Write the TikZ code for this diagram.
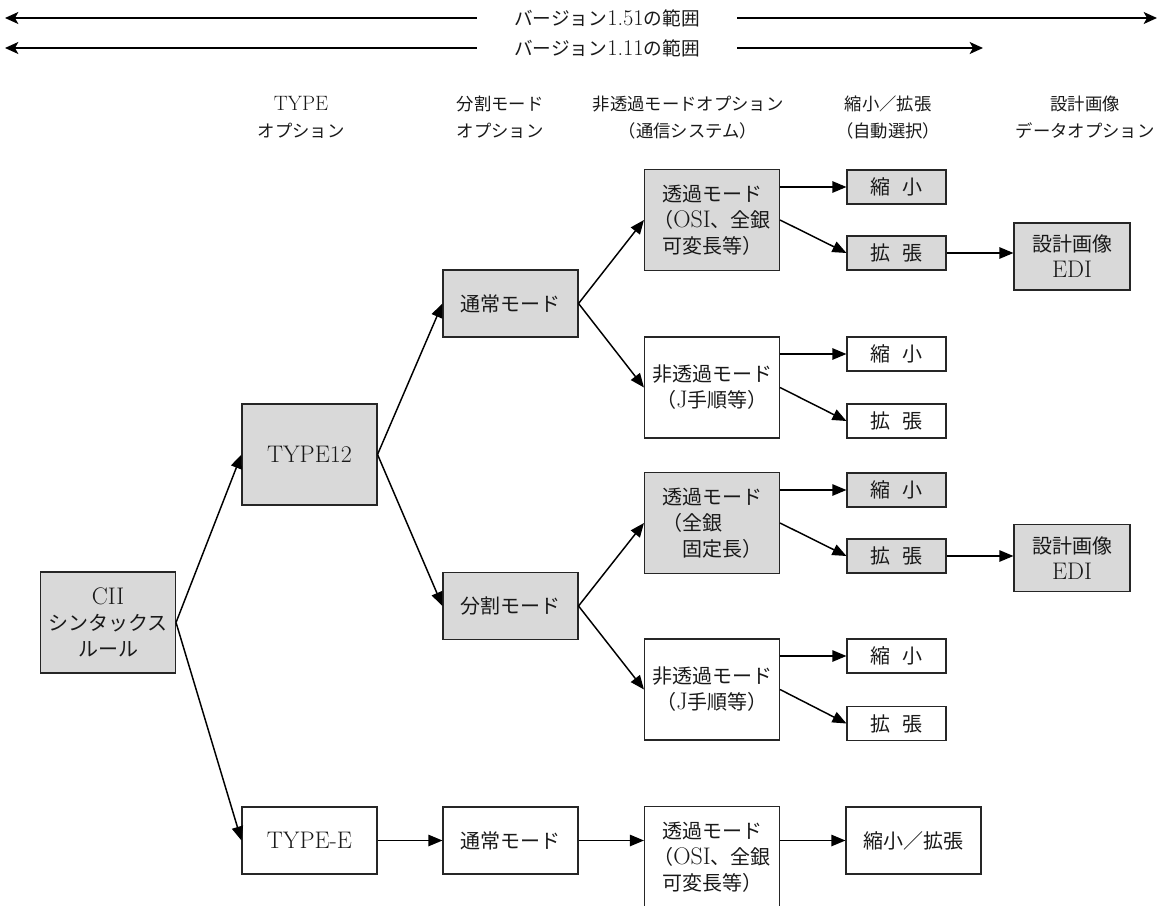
\documentclass[tikz,border=0pt]{standalone}
\usepackage{fontspec}
\setmainfont{Latin Modern Roman}[Scale=1.2]
\newfontfamily\jp{Noto Sans CJK JP}
\usetikzlibrary{arrows.meta}
\newcommand\J[1]{{\jp #1}}
\newcommand\boxfont{\fontsize{15}{19.5}\selectfont}
\newcommand\headfont{\fontsize{13}{20}\selectfont}
\begin{document}
\begin{tikzpicture}[x=0.75pt,y=-0.75pt,
  bx/.style={draw=black!85, line width=0.8pt, inner sep=0pt, align=center, font=\boxfont, text=black!90},
  gbx/.style={bx, fill=black!15},
  bigbox/.style={minimum width=135*0.75pt, minimum height=101*0.75pt},
  midbox/.style={minimum width=135*0.75pt, minimum height=67*0.75pt},
  smallbox/.style={minimum width=99*0.75pt, minimum height=34*0.75pt},
  edibox/.style={minimum width=116*0.75pt, minimum height=67*0.75pt},
  head/.style={align=center, font=\headfont, inner sep=0pt, text=black!90},
  lbl/.style={font=\fontsize{14}{16}\selectfont, inner xsep=28pt, inner ysep=0pt, text=black!90},
  arr/.style={-{Triangle[length=10.5pt,width=8.5pt]}, line width=1.1pt},
  toparr/.style={-{Stealth[length=10pt,width=9pt,inset=2.5pt]}, line width=1.2pt}
]
\useasboundingbox (0,0) rectangle (1161,906);
\clip (0,0) rectangle (1161,906);

% ---- range arrows ----
\node[lbl] (v151) at (607,18) {\J{バージョン}1.51\J{の範囲}};
\coordinate (v151l) at (5,18);
\coordinate (v151r) at (1157,18);
\draw[toparr] (v151.west) -- (v151l);
\draw[toparr] (v151.east) -- (v151r);
\node[lbl] (v111) at (607,48) {\J{バージョン}1.11\J{の範囲}};
\coordinate (v111l) at (5,48);
\coordinate (v111r) at (983,48);
\draw[toparr] (v111.west) -- (v111l);
\draw[toparr] (v111.east) -- (v111r);

% ---- headers ----
\node[head] (h1) at (301,117.5) {TYPE\\\J{オプション}};
\node[head] (h2) at (500,117.5) {\J{分割モード}\\\J{オプション}};
\node[head] (h3) at (688,117.5) {\J{非透過モードオプション}\\\J{（通信システム）}};
\node[head] (h4) at (888,117.5) {\J{縮小／拡張}\\\J{（自動選択）}};
\node[head] (h5) at (1085,117.5) {\J{設計画像}\\\J{データオプション}};

% ---- boxes ----
\node[gbx,bigbox] (cii) at (108,622.5) {CII\\\J{シンタックス}\\\J{ルール}};
\node[gbx,bigbox] (t12) at (309.5,454.5) {TYPE12};
\node[bx,midbox] (te) at (309.5,840.5) {TYPE-E};

\node[gbx,midbox] (norm) at (510.5,303.5) {\J{通常モード}};
\node[gbx,midbox] (div) at (510.5,606) {\J{分割モード}};
\node[bx,midbox] (normE) at (510.5,840.5) {\J{通常モード}};

\node[gbx,bigbox] (tr1) at (712,220) {\J{透過モード}\\\J{（}OSI\J{、全銀}\\\J{可変長等）}};
\node[bx,bigbox] (nt1) at (712,387.5) {\J{非透過モード}\\\J{（}J\J{手順等）}};
\node[gbx,bigbox,align=left] (tr2) at (712,523) {\J{透過モード}\\\J{（全銀}\\\J{　固定長）}};
\node[bx,bigbox] (nt2) at (712,689.5) {\J{非透過モード}\\\J{（}J\J{手順等）}};
\node[bx,bigbox] (trE) at (712,857) {\J{透過モード}\\\J{（}OSI\J{、全銀}\\\J{可変長等）}};

\node[gbx,smallbox] (s1) at (896.5,187) {\J{縮\hspace{0.6em}小}};
\node[gbx,smallbox] (e1) at (896.5,253) {\J{拡\hspace{0.6em}張}};
\node[bx,smallbox] (s2) at (896.5,354) {\J{縮\hspace{0.6em}小}};
\node[bx,smallbox] (e2) at (896.5,421) {\J{拡\hspace{0.6em}張}};
\node[gbx,smallbox] (s3) at (896.5,490) {\J{縮\hspace{0.6em}小}};
\node[gbx,smallbox] (e3) at (896.5,556) {\J{拡\hspace{0.6em}張}};
\node[bx,smallbox] (s4) at (896.5,656) {\J{縮\hspace{0.6em}小}};
\node[bx,smallbox] (e4) at (896.5,723.5) {\J{拡\hspace{0.6em}張}};
\node[bx,midbox] (seE) at (913.5,840.5) {\J{縮小／拡張}};

\node[gbx,edibox] (edi1) at (1072,256.5) {\J{設計画像}\\EDI};
\node[gbx,edibox] (edi2) at (1072,558) {\J{設計画像}\\EDI};

% ---- connectors ----
\draw[arr] (cii.east) -- (t12.west);
\draw[arr] (cii.east) -- (te.west);
\draw[arr] (t12.east) -- (norm.west);
\draw[arr] (t12.east) -- (div.west);
\draw[arr] (te.east) -- (normE.west);
\draw[arr] (normE.east) -- (normE.east -| trE.west);
\draw[arr] (trE.east |- seE.west) -- (seE.west);

\draw[arr] (norm.east) -- (tr1.west);
\draw[arr] (norm.east) -- (nt1.west);
\draw[arr] (div.east) -- (tr2.west);
\draw[arr] (div.east) -- (nt2.west);

\draw[arr] (s1.west -| tr1.east) -- (s1.west);
\draw[arr] (tr1.east) -- (e1.west);
\draw[arr] (s2.west -| nt1.east) -- (s2.west);
\draw[arr] (nt1.east) -- (e2.west);
\draw[arr] (s3.west -| tr2.east) -- (s3.west);
\draw[arr] (tr2.east) -- (e3.west);
\draw[arr] (s4.west -| nt2.east) -- (s4.west);
\draw[arr] (nt2.east) -- (e4.west);

\draw[arr] (e1.east) -- (e1.east -| edi1.west);
\draw[arr] (e3.east) -- (e3.east -| edi2.west);
\end{tikzpicture}
\end{document}
